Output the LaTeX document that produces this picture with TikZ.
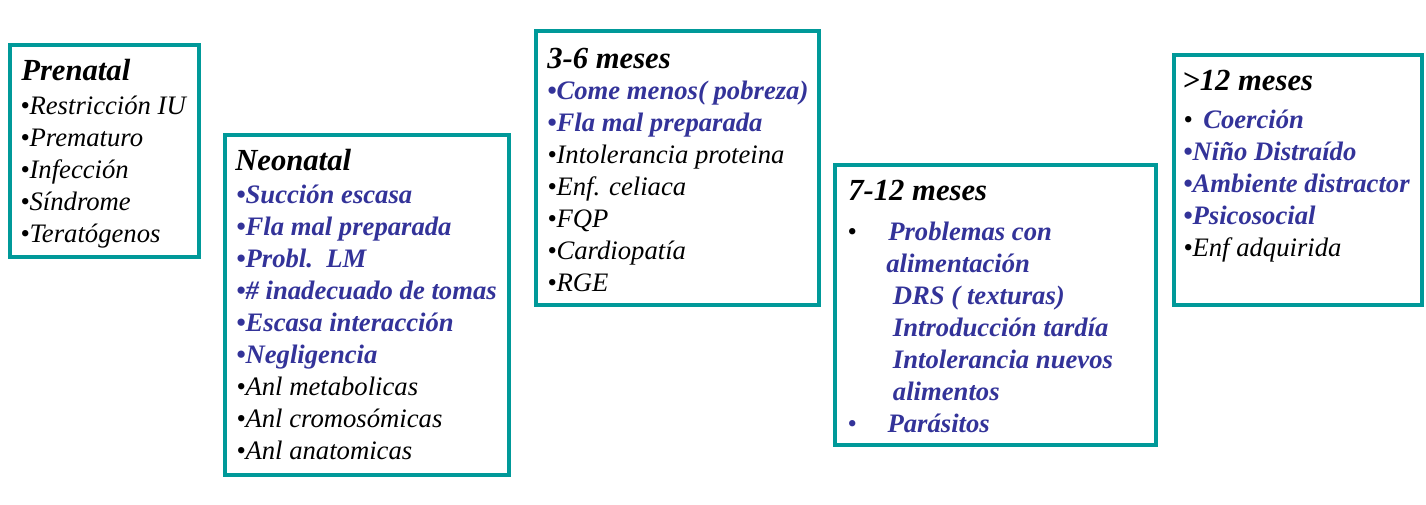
\documentclass[tikz,border=0pt]{standalone}
\usepackage{fontspec}
\setmainfont{Liberation Serif}
\usetikzlibrary{fit}
\definecolor{boxteal}{HTML}{009999}
\definecolor{itemblue}{HTML}{333399}
\newcommand{\blu}[1]{{\color{itemblue}\bfseries #1}}

\begin{document}
\begin{tikzpicture}[x=0.75pt,y=-0.75pt,
    box/.style={draw=boxteal, line width=3pt, inner sep=0pt},
    head/.style={anchor=base west, inner sep=0pt, font=\fontsize{23}{28}\selectfont\bfseries\itshape},
    items/.style={anchor=base west, inner sep=0pt, align=left, font=\fontsize{20}{24}\selectfont\itshape}]
    \useasboundingbox (0,0) rectangle (1426,504);

    % boxes
    \node[box, fit={(10,45) (198.5,256.5)}] (prenatal) {};
    \node[box, fit={(225,135) (508.5,474.5)}] (neonatal) {};
    \node[box, fit={(536,31) (819,305)}] (m3a6) {};
    \node[box, fit={(835,165) (1155.5,445)}] (m7a12) {};
    \node[box, fit={(1174,55) (1421.5,305)}] (m12) {};

    % prenatal (items placed at last baseline)
    \node[head] (prenatal-h) at (21,80) {Prenatal};
    \node[items] (prenatal-i) at (20,242) {•Restricción IU\\ •Prematuro\\ •Infección\\ •Síndrome\\ •Teratógenos};

    % neonatal
    \node[head] (neonatal-h) at (235,170) {Neonatal};
    \node[items] (neonatal-i) at (236,459) {\blu{•Succión escasa}\\ \blu{•Fla mal preparada}\\ \blu{•Probl.\ \ LM}\\
      \blu{•\# inadecuado de tomas}\\ \blu{•Escasa interacción}\\ \blu{•Negligencia}\\
      •Anl metabolicas\\ •Anl cromosómicas\\ •Anl anatomicas};

    % 3-6 meses
    \node[head] (m3a6-h) at (547,68) {3-6 meses};
    \node[items] (m3a6-i) at (547,291) {\blu{•Come menos( pobreza)}\\ \blu{•Fla mal preparada}\\
      •Intolerancia proteina\\ •Enf. celiaca\\ •FQP\\ •Cardiopatía\\ •RGE};

    % 7-12 meses
    \node[head] (m7a12-h) at (848,200) {7-12 meses};
    \node[items] (m7a12-b1) at (847,240) {•};
    \node[items] (m7a12-b2) at (847,432) {\color{itemblue}•};
    \node[items] (m7a12-i) at (886,432) {\hspace{1.5pt}\blu{Problemas con}\\ \blu{alimentación}\\
      \hspace{5pt}\blu{DRS ( texturas)}\\ \hspace{5pt}\blu{Introducción tardía}\\
      \hspace{5pt}\blu{Intolerancia nuevos}\\ \hspace{5pt}\blu{alimentos}\\ \hspace{1pt}\blu{Parásitos}};

    % >12 meses
    \node[head] (m12-h) at (1182,90) {>12 meses};
    \node[items] (m12-i) at (1183,256) {•\hspace{8pt}\blu{Coerción}\\ \blu{•Niño Distraído}\\
      \blu{•Ambiente distractor}\\ \blu{•Psicosocial}\\ •Enf adquirida};
\end{tikzpicture}
\end{document}
